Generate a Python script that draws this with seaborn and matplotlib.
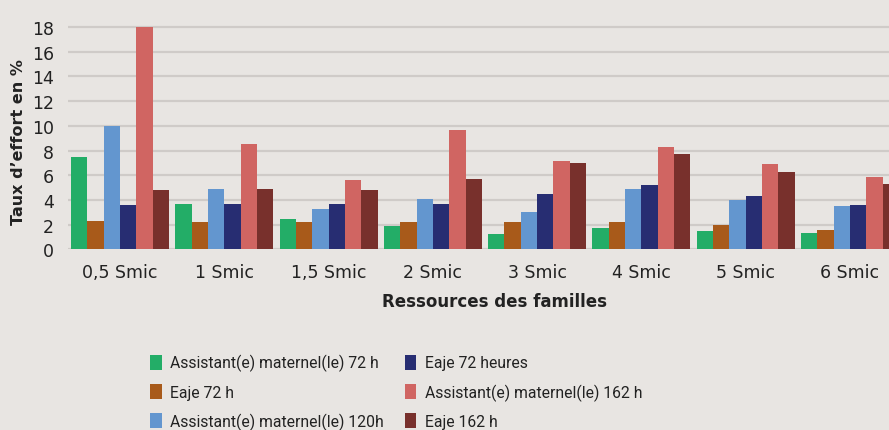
import pandas as pd
import seaborn as sns
import matplotlib.pyplot as plt
from matplotlib.patches import Patch

# Catégories de ressources
categories = ["0,5 Smic", "1 Smic", "1,5 Smic", "2 Smic", "3 Smic", "4 Smic", "5 Smic", "6 Smic"]

# Séries (taux d'effort en %)
am_72h = [7.5, 3.7, 2.5, 1.9, 1.25, 1.7, 1.5, 1.3]
eaje_72h = [2.3, 2.2, 2.2, 2.2, 2.2, 2.2, 2.0, 1.6]
am_120h = [10.0, 4.9, 3.3, 4.1, 3.0, 4.9, 4.0, 3.5]
eaje_72_heures = [3.6, 3.7, 3.7, 3.7, 4.5, 5.2, 4.3, 3.6]
am_162h = [18.0, 8.5, 5.6, 9.7, 7.2, 8.3, 6.9, 5.9]
eaje_162h = [4.8, 4.9, 4.8, 5.7, 7.0, 7.7, 6.3, 5.3]

series_names = [
    "Assistant(e) maternel(le) 72 h",
    "Eaje 72 h",
    "Assistant(e) maternel(le) 120h",
    "Eaje 72 heures",
    "Assistant(e) maternel(le) 162 h",
    "Eaje 162 h",
]
series_values = [am_72h, eaje_72h, am_120h, eaje_72_heures, am_162h, eaje_162h]
colors = ["#23ad67", "#a85a1a", "#6396cf", "#272d72", "#d06562", "#78302c"]

rows = []
for name, vals in zip(series_names, series_values):
    for cat, v in zip(categories, vals):
        rows.append({"ressources": cat, "serie": name, "taux": v})
df = pd.DataFrame(rows)

bg = "#e8e5e2"
txt = "#222222"

sns.set_style("white")
plt.rcParams["font.family"] = ["DejaVu Sans"]

fig = plt.figure(figsize=(8.89, 4.31), dpi=100, facecolor=bg)
ax = fig.add_axes([68 / 889, 0.4188, (902 - 68) / 889, 0.5248])
ax.set_facecolor(bg)

sns.barplot(data=df, x="ressources", y="taux", hue="serie", order=categories,
            hue_order=series_names, palette=colors, width=0.94, gap=0,
            saturation=1, legend=False, ax=ax, linewidth=0)

ax.set_xlim(-0.5, 7.5)
ax.set_ylim(0, 18.3)
ax.set_yticks(range(0, 19, 2))
ax.yaxis.grid(True, color="#cfcbc8", linewidth=1.6)
ax.set_axisbelow(True)
for s in ax.spines.values():
    s.set_visible(False)
ax.tick_params(axis="both", length=0, labelsize=12.5, colors=txt)
ax.tick_params(axis="y", pad=10)
ax.tick_params(axis="x", pad=10)

ax.set_xlabel("Ressources des familles", fontsize=12, color=txt, fontweight="semibold")
ax.set_ylabel("Taux d\u2019effort en %", fontsize=11.5, color=txt, fontweight="bold")
ax.xaxis.set_label_coords((494 - 68) / (902 - 68), -0.19)
ax.yaxis.set_label_coords((26 - 68) / (902 - 68), (250 - 142) / 226)

handles = [Patch(facecolor=c, edgecolor="none") for c in colors]
fig.legend(handles, series_names, loc="upper left", bbox_to_anchor=(150 / 889, 1 - 355 / 431),
           ncol=2, frameon=False, prop={"family": "Roboto", "size": 11.3},
           handlelength=0.75, handleheight=1.1, handletextpad=0.55, labelspacing=0.82,
           columnspacing=1.3, labelcolor=txt, borderaxespad=0, borderpad=0)

fig.savefig("out.png", dpi=100, facecolor=bg)
